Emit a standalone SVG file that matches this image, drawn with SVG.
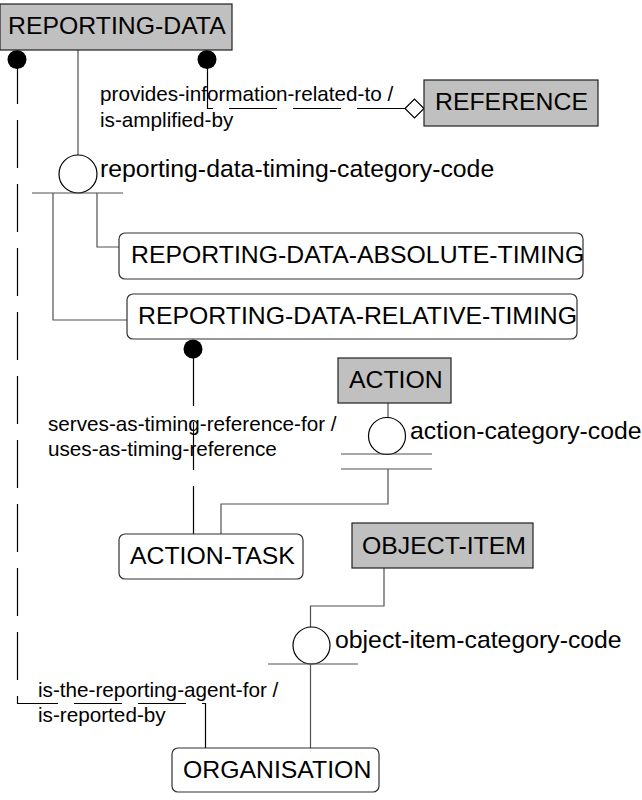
<svg xmlns="http://www.w3.org/2000/svg" width="642" height="800" viewBox="0 0 642 800">
<style>
.ent{fill:#c0c0c0;stroke:#202020;stroke-width:1.2}
.sub{fill:#fff;stroke:#303030;stroke-width:1.2}
.lbl{font-family:"Liberation Sans",Arial,sans-serif;font-size:24.8px;fill:#000}
.rel{font-family:"Liberation Sans",Arial,sans-serif;font-size:20.7px;fill:#000}
.ln{fill:none;stroke:#505050;stroke-width:1.2}
.dl{fill:none;stroke:#000;stroke-width:1.2;stroke-dasharray:48 16}
.dot{fill:#000}
.cat{fill:#fff;stroke:#000;stroke-width:1.2}
</style>
<rect width="642" height="800" fill="#fff"/>
<g id="connectors">
  <path class="ln" d="M78,50 V155"/>
  <circle class="cat" cx="78" cy="174" r="19"/>
  <path class="ln" d="M32,193 H123"/>
  <path class="ln" d="M97,193 V247 H119"/>
  <path class="ln" d="M53,193 V320 H127"/>
  <path class="dl" d="M405,108.5 H207.5 V60"/>
  <circle class="dot" cx="207" cy="59.5" r="9.5"/>
  <polygon points="405,108.5 414.5,99 424,108.5 414.5,118" fill="#fff" stroke="#000" stroke-width="1.2"/>
  <path class="dl" d="M205.5,748 V703.5 H17.5 V60"/>
  <circle class="dot" cx="17" cy="59.5" r="9.5"/>
  <path class="dl" d="M193.5,534 V349"/>
  <circle class="dot" cx="193" cy="349" r="9.5"/>
  <path class="ln" d="M388,403 V417"/>
  <circle class="cat" cx="387" cy="436" r="18.5"/>
  <path class="ln" d="M341,454 H432 M341,469 H432"/>
  <path class="ln" d="M388,469 V504 H221 V534"/>
  <path class="ln" d="M384,568 V606 H310.5 V627"/>
  <circle class="cat" cx="311.5" cy="645.5" r="18.5"/>
  <path class="ln" d="M268,664 H358"/>
  <path class="ln" d="M310.5,664 V748"/>
</g>
<g id="REPORTING-DATA">
  <rect class="ent" x="0" y="4" width="232" height="46"/>
  <text class="lbl" x="8" y="33.5">REPORTING-DATA</text>
</g>
<g id="REFERENCE">
  <rect class="ent" x="424" y="80" width="174" height="46"/>
  <text class="lbl" x="435" y="110">REFERENCE</text>
</g>
<g id="REPORTING-DATA-ABSOLUTE-TIMING">
  <rect class="sub" x="119" y="233" width="464" height="46" rx="6"/>
  <text class="lbl" x="131" y="263">REPORTING-DATA-ABSOLUTE-TIMING</text>
</g>
<g id="REPORTING-DATA-RELATIVE-TIMING">
  <rect class="sub" x="127" y="294" width="450" height="45" rx="6"/>
  <text class="lbl" x="138" y="324">REPORTING-DATA-RELATIVE-TIMING</text>
</g>
<g id="ACTION">
  <rect class="ent" x="338" y="358" width="113" height="45"/>
  <text class="lbl" x="349" y="388">ACTION</text>
</g>
<g id="ACTION-TASK">
  <rect class="sub" x="119" y="534" width="184" height="45" rx="6"/>
  <text class="lbl" x="130" y="564">ACTION-TASK</text>
</g>
<g id="OBJECT-ITEM">
  <rect class="ent" x="352" y="523" width="181" height="45"/>
  <text class="lbl" x="362" y="554">OBJECT-ITEM</text>
</g>
<g id="ORGANISATION">
  <rect class="sub" x="172" y="748" width="207" height="44" rx="6"/>
  <text class="lbl" x="183" y="778">ORGANISATION</text>
</g>
<g id="labels">
  <text class="lbl" x="100" y="177">reporting-data-timing-category-code</text>
  <text class="lbl" x="410" y="439">action-category-code</text>
  <text class="lbl" x="335" y="648">object-item-category-code</text>
  <text class="rel" x="100" y="101">provides-information-related-to /</text>
  <text class="rel" x="100" y="127">is-amplified-by</text>
  <text class="rel" x="48" y="431">serves-as-timing-reference-for /</text>
  <text class="rel" x="48" y="456">uses-as-timing-reference</text>
  <text class="rel" x="38" y="697">is-the-reporting-agent-for /</text>
  <text class="rel" x="38" y="722">is-reported-by</text>
</g>
</svg>
